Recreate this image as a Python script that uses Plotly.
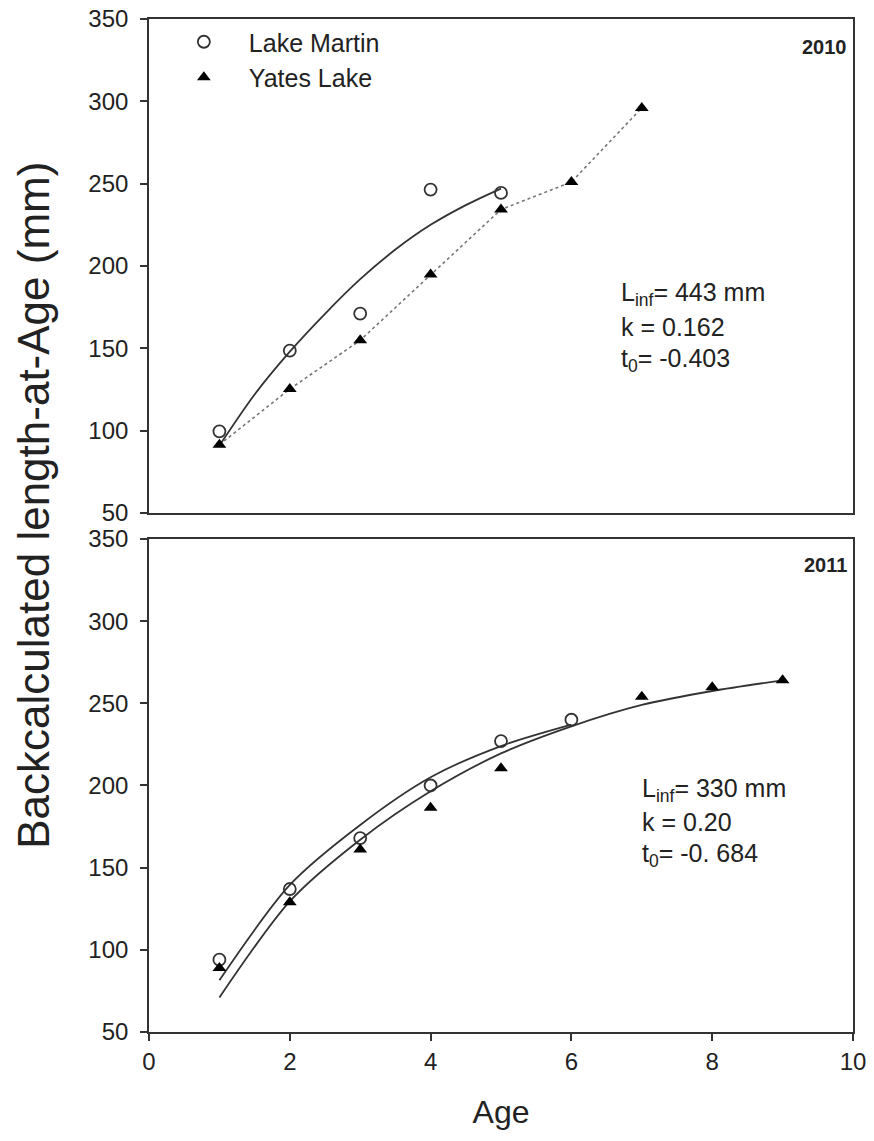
import plotly.graph_objects as go
from plotly.subplots import make_subplots

# Data

# 2010
age_martin_2010 = [1, 2, 3, 4, 5]
len_martin_2010 = [99.6, 148.6, 171.1, 246.4, 244.4]
age_yates_2010 = [1, 2, 3, 4, 5, 6, 7]
len_yates_2010 = [91.5, 125.3, 154.9, 194.8, 234.3, 251.0, 296.0]
# fitted growth curve (Lake Martin 2010)
fit_age_2010 = [1, 1.5, 2, 2.5, 3, 3.5, 4, 4.5, 5]
fit_len_2010 = [91, 122, 148, 171, 192, 210, 225, 237, 247]

# 2011
age_martin_2011 = [1, 2, 3, 4, 5, 6]
len_martin_2011 = [94.0, 137.0, 168.0, 200.0, 227.0, 240.0]
age_yates_2011 = [1, 2, 3, 4, 5, 7, 8, 9]
len_yates_2011 = [89.0, 129.0, 161.0, 186.5, 210.5, 254.0, 259.7, 264.0]
fit_age_martin_2011 = [1, 2, 3, 4, 5, 6]
fit_len_martin_2011 = [81.5, 139.5, 176, 205, 224, 237]
fit_age_yates_2011 = [1, 2, 3, 4, 5, 6, 7, 8, 9]
fit_len_yates_2011 = [71, 129.5, 167, 196.5, 219.5, 236, 249, 257.5, 264]

y_ticks = [50, 100, 150, 200, 250, 300, 350]
x_ticks = [0, 2, 4, 6, 8, 10]

# Styles
FONT = "Liberation Sans, Arial, sans-serif"
INK = "#222222"
circle_style = dict(symbol="circle-open", size=12, color="#333333", line=dict(width=1.8, color="#333333"))
triangle_style = dict(symbol="triangle-up", size=12, color="black")
fit_line = dict(color="#333333", width=1.8, shape="spline", smoothing=0.8)

fig = make_subplots(rows=2, cols=1)

# Top panel (2010)
fig.add_trace(go.Scatter(x=fit_age_2010, y=fit_len_2010, mode="lines", line=fit_line, showlegend=False), row=1, col=1)
fig.add_trace(go.Scatter(x=age_yates_2010, y=len_yates_2010, mode="lines", line=dict(color="#777777", width=1.6, dash="dot"), showlegend=False), row=1, col=1)
fig.add_trace(go.Scatter(x=age_martin_2010, y=len_martin_2010, mode="markers", marker=circle_style, name="Lake Martin"), row=1, col=1)
fig.add_trace(go.Scatter(x=age_yates_2010, y=len_yates_2010, mode="markers", marker=triangle_style, name="Yates Lake"), row=1, col=1)

# Bottom panel (2011)
fig.add_trace(go.Scatter(x=fit_age_martin_2011, y=fit_len_martin_2011, mode="lines", line=fit_line, showlegend=False), row=2, col=1)
fig.add_trace(go.Scatter(x=fit_age_yates_2011, y=fit_len_yates_2011, mode="lines", line=fit_line, showlegend=False), row=2, col=1)
fig.add_trace(go.Scatter(x=age_martin_2011, y=len_martin_2011, mode="markers", marker=circle_style, showlegend=False), row=2, col=1)
fig.add_trace(go.Scatter(x=age_yates_2011, y=len_yates_2011, mode="markers", marker=triangle_style, showlegend=False), row=2, col=1)

axis_common = dict(showline=True, linecolor="#333333", linewidth=1.6, mirror=True, showgrid=False,
                   zeroline=False, automargin=False)

fig.update_xaxes(range=[0, 10], **axis_common)
fig.update_xaxes(showticklabels=False, ticks="", row=1, col=1)
fig.update_xaxes(tickvals=x_ticks, ticks="outside", ticklen=7, tickcolor="#333333", tickwidth=1.5,
                 tickfont=dict(family=FONT, size=24, color=INK), ticklabelstandoff=0,
                 title=dict(text="Age", font=dict(family=FONT, size=32, color=INK), standoff=27), row=2, col=1)
fig.update_yaxes(range=[50, 350], tickvals=y_ticks, ticks="outside", ticklen=7, tickcolor="#333333", tickwidth=1.5,
                 tickfont=dict(family=FONT, size=24, color=INK), ticklabelstandoff=7,
                 ticklabeloverflow="allow", **axis_common)

# page body adds an 8px offset, margins compensate for it
fig.update_layout(
    width=874, height=1141,
    margin=dict(l=141, r=29, t=11, b=117),
    plot_bgcolor="white", paper_bgcolor="white",
    font=dict(family=FONT, color=INK),
    yaxis=dict(domain=[0.5123, 1.0]),
    yaxis2=dict(domain=[0.0, 0.4867]),
    legend=dict(x=0.014, y=1.0, xanchor="left", yanchor="top", bgcolor="rgba(0,0,0,0)",
                font=dict(family=FONT, size=25, color=INK), tracegroupgap=0, itemwidth=80),
)

# Panel labels
fig.add_annotation(text="<b>2010</b>", x=9.94, y=333, xref="x", yref="y", xanchor="right", yanchor="middle",
                   showarrow=False, font=dict(family=FONT, size=20, color=INK))
fig.add_annotation(text="<b>2011</b>", x=9.94, y=334, xref="x2", yref="y2", xanchor="right", yanchor="middle",
                   showarrow=False, font=dict(family=FONT, size=20, color=INK))

# Growth parameter notes
notes_2010 = ["L<sub>inf</sub>= 443 mm", "k = 0.162", "t<sub>0</sub>= -0.403"]
notes_2011 = ["L<sub>inf</sub>= 330 mm", "k = 0.20", "t<sub>0</sub>= -0. 684"]
for i, line in enumerate(notes_2010):
    fig.add_annotation(text=line, x=6.67, y=183 - 20 * i, xref="x", yref="y", xanchor="left", yanchor="middle",
                       showarrow=False, font=dict(family=FONT, size=25, color=INK))
for i, line in enumerate(notes_2011):
    fig.add_annotation(text=line, x=6.98, y=197.5 - 20 * i, xref="x2", yref="y2", xanchor="left", yanchor="middle",
                       showarrow=False, font=dict(family=FONT, size=25, color=INK))

# Shared y-axis title
fig.add_annotation(text="Backcalculated length-at-Age (mm)", x=-0.164, y=0.52, xref="paper", yref="paper",
                   xanchor="center", yanchor="middle", textangle=-90, showarrow=False,
                   font=dict(family=FONT, size=44, color=INK))

fig.write_html("out.html")
